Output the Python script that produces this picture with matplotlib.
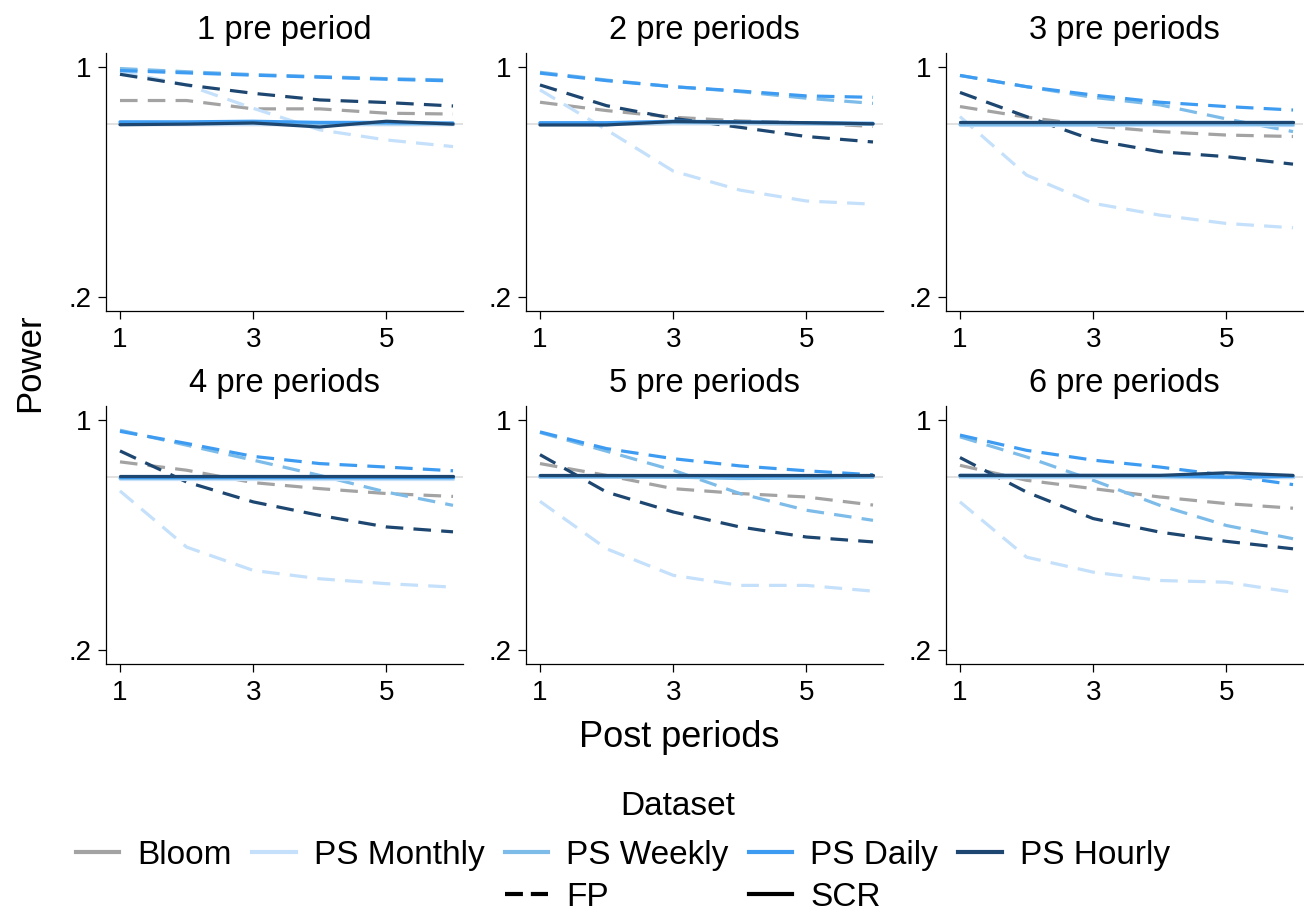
import matplotlib
matplotlib.use("Agg")
import matplotlib.pyplot as plt
from matplotlib.lines import Line2D

plt.rcParams['font.family'] = ['Liberation Sans', 'DejaVu Sans']

post_periods = [1, 2, 3, 4, 5, 6]
panel_titles = ["1 pre period", "2 pre periods", "3 pre periods",
                "4 pre periods", "5 pre periods", "6 pre periods"]
datasets = ["Bloom", "PS Monthly", "PS Weekly", "PS Daily", "PS Hourly"]
colors = {"Bloom": "#a3a3a3", "PS Monthly": "#c4e0fb", "PS Weekly": "#7dbce9",
          "PS Daily": "#3d9cf2", "PS Hourly": "#1d4670"}
methods = ["FP", "SCR"]
y_ticks = [0.2, 1.0]
y_ticklabels = [".2", "1"]
x_ticks = [1, 3, 5]
target_power = 0.8

# FP (dashed) power by panel
fp_bloom = [
    [0.882, 0.882, 0.853, 0.853, 0.838, 0.835],
    [0.876, 0.847, 0.824, 0.811, 0.804, 0.792],
    [0.861, 0.824, 0.794, 0.774, 0.762, 0.757],
    [0.853, 0.824, 0.781, 0.760, 0.743, 0.733],
    [0.847, 0.806, 0.760, 0.743, 0.731, 0.703],
    [0.841, 0.789, 0.760, 0.731, 0.708, 0.692],
]
fp_monthly = [
    [0.983, 0.936, 0.855, 0.780, 0.745, 0.722],
    [0.919, 0.780, 0.637, 0.571, 0.533, 0.522],
    [0.826, 0.623, 0.525, 0.484, 0.455, 0.440],
    [0.752, 0.557, 0.476, 0.447, 0.430, 0.418],
    [0.716, 0.551, 0.459, 0.424, 0.424, 0.404],
    [0.714, 0.522, 0.470, 0.441, 0.435, 0.400],
]
fp_weekly = [
    [0.993, 0.982, 0.972, 0.965, 0.958, 0.953],
    [0.980, 0.953, 0.930, 0.913, 0.890, 0.872],
    [0.969, 0.930, 0.893, 0.867, 0.818, 0.774],
    [0.963, 0.911, 0.859, 0.806, 0.748, 0.702],
    [0.955, 0.890, 0.824, 0.743, 0.685, 0.650],
    [0.940, 0.870, 0.789, 0.702, 0.632, 0.586],
]
fp_daily = [
    [0.986, 0.978, 0.970, 0.963, 0.956, 0.950],
    [0.977, 0.951, 0.930, 0.915, 0.898, 0.893],
    [0.969, 0.930, 0.901, 0.876, 0.861, 0.849],
    [0.959, 0.917, 0.872, 0.847, 0.835, 0.822],
    [0.957, 0.899, 0.864, 0.839, 0.822, 0.808],
    [0.946, 0.893, 0.859, 0.835, 0.806, 0.774],
]
fp_hourly = [
    [0.973, 0.936, 0.907, 0.884, 0.875, 0.863],
    [0.936, 0.864, 0.820, 0.789, 0.757, 0.738],
    [0.910, 0.826, 0.745, 0.704, 0.687, 0.661],
    [0.891, 0.783, 0.714, 0.667, 0.627, 0.610],
    [0.878, 0.748, 0.679, 0.627, 0.592, 0.575],
    [0.868, 0.748, 0.656, 0.609, 0.577, 0.551],
]
# SCR (solid) power by panel
scr_bloom = [
    [0.800, 0.800, 0.800, 0.800, 0.800, 0.800],
    [0.800, 0.800, 0.802, 0.802, 0.800, 0.800],
    [0.800, 0.800, 0.800, 0.800, 0.800, 0.800],
    [0.798, 0.798, 0.798, 0.798, 0.798, 0.798],
    [0.800, 0.800, 0.800, 0.798, 0.798, 0.800],
    [0.800, 0.800, 0.800, 0.800, 0.800, 0.800],
]
scr_monthly = [
    [0.800, 0.800, 0.800, 0.800, 0.800, 0.800],
    [0.800, 0.800, 0.802, 0.802, 0.800, 0.800],
    [0.798, 0.798, 0.798, 0.798, 0.798, 0.798],
    [0.795, 0.795, 0.795, 0.795, 0.795, 0.795],
    [0.800, 0.800, 0.800, 0.797, 0.797, 0.800],
    [0.800, 0.800, 0.800, 0.800, 0.800, 0.800],
]
scr_weekly = [
    [0.802, 0.803, 0.805, 0.802, 0.802, 0.801],
    [0.802, 0.802, 0.806, 0.805, 0.803, 0.800],
    [0.798, 0.798, 0.798, 0.800, 0.800, 0.798],
    [0.796, 0.796, 0.797, 0.797, 0.797, 0.797],
    [0.801, 0.801, 0.800, 0.795, 0.797, 0.800],
    [0.802, 0.802, 0.802, 0.802, 0.800, 0.802],
]
scr_daily = [
    [0.808, 0.808, 0.810, 0.806, 0.806, 0.804],
    [0.805, 0.805, 0.810, 0.808, 0.805, 0.803],
    [0.806, 0.806, 0.806, 0.806, 0.806, 0.806],
    [0.801, 0.801, 0.801, 0.801, 0.801, 0.801],
    [0.805, 0.805, 0.805, 0.803, 0.804, 0.805],
    [0.806, 0.806, 0.806, 0.806, 0.800, 0.803],
]
scr_hourly = [
    [0.798, 0.800, 0.804, 0.790, 0.810, 0.800],
    [0.797, 0.797, 0.809, 0.807, 0.805, 0.801],
    [0.806, 0.806, 0.806, 0.806, 0.806, 0.806],
    [0.804, 0.804, 0.804, 0.804, 0.804, 0.804],
    [0.806, 0.806, 0.806, 0.806, 0.806, 0.806],
    [0.806, 0.806, 0.806, 0.806, 0.815, 0.806],
]

fp_data = {"Bloom": fp_bloom, "PS Monthly": fp_monthly, "PS Weekly": fp_weekly,
           "PS Daily": fp_daily, "PS Hourly": fp_hourly}
scr_data = {"Bloom": scr_bloom, "PS Monthly": scr_monthly, "PS Weekly": scr_weekly,
            "PS Daily": scr_daily, "PS Hourly": scr_hourly}

W, H = 1304, 913
fig = plt.figure(figsize=(W / 100, H / 100), dpi=100)

col_left = [106, 526, 946]
row_top = [53, 406]
ax_w, ax_h = 357, 258
LW = 2.3
DASH = (5.5, 3.2)

for i in range(6):
    r, c = divmod(i, 3)
    left = col_left[c] / W
    bottom = 1 - (row_top[r] + ax_h) / H
    ax = fig.add_axes([left, bottom, ax_w / W, ax_h / H])
    ax.axhline(target_power, color="#d9d9d9", lw=1.1, zorder=1)
    for d in datasets:
        ax.plot(post_periods, fp_data[d][i], color=colors[d], lw=LW,
                dashes=DASH, zorder=2, solid_capstyle='butt', dash_capstyle='butt')
    for d in datasets:
        ax.plot(post_periods, scr_data[d][i], color=colors[d], lw=LW,
                zorder=3, solid_capstyle='round')
    ax.set_xlim(0.79, 6.15)
    ax.set_ylim(0.151, 1.047)
    ax.set_xticks(x_ticks)
    ax.set_xticklabels([str(t) for t in x_ticks])
    ax.set_yticks(y_ticks)
    ax.set_yticklabels(y_ticklabels)
    for s in ["top", "right"]:
        ax.spines[s].set_visible(False)
    for s in ["left", "bottom"]:
        ax.spines[s].set_linewidth(0.9)
        ax.spines[s].set_color("black")
    ax.tick_params(axis='both', length=5.5, width=0.9, labelsize=20, color='black')
    ax.tick_params(axis='x', pad=6)
    ax.tick_params(axis='y', pad=5)
    ax.set_title(panel_titles[i], fontsize=23.5, pad=10)

fig.text(30 / W, 1 - 363 / H, "Power", rotation=90, fontsize=25,
         ha='center', va='center')
fig.text(679 / W, 1 - 737 / H, "Post periods", fontsize=26,
         ha='center', va='center')
fig.text(678 / W, 1 - 806 / H, "Dataset", fontsize=24,
         ha='center', va='center')

def blank():
    return Line2D([], [], color='none')

h = {d: Line2D([], [], color=colors[d], lw=3) for d in datasets}
h_fp = Line2D([], [], color='black', lw=3, dashes=(4.3, 1.9))
h_scr = Line2D([], [], color='black', lw=3)
handles = [h["Bloom"], blank(), h["PS Monthly"], blank(), h["PS Weekly"], h_fp,
           h["PS Daily"], h_scr, h["PS Hourly"], blank()]
labels = ["Bloom", "", "PS Monthly", "", "PS Weekly", "FP",
          "PS Daily", "SCR", "PS Hourly", ""]
fig.legend(handles, labels, ncol=5, loc='upper left',
           bbox_to_anchor=(76 / W, 1 - 840 / H), frameon=False, borderpad=0,
           borderaxespad=0, handlelength=1.3, handletextpad=0.55,
           columnspacing=0.6, labelspacing=0.33, fontsize=24)

fig.savefig("out.png", dpi=100)
